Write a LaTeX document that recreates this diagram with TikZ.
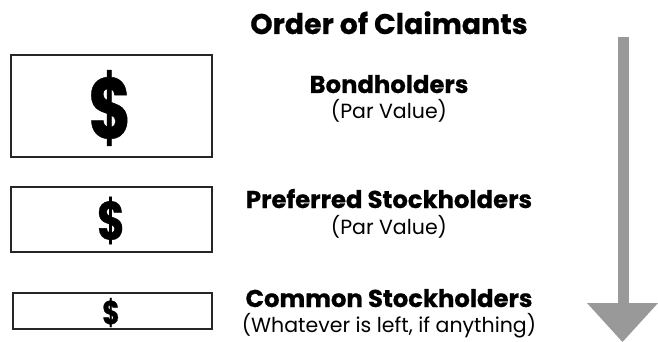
\documentclass[tikz,border=0pt]{standalone}
\usepackage{fontspec}
\setmainfont{Poppins}[BoldFeatures={FakeBold=0.6}]
\begin{document}
\begin{tikzpicture}[x=1pt,y=-1pt,
  bill/.style={draw=black!85,line width=1.4pt},
  dollar/.style={font=\bfseries\fontsize{#1}{#1}\selectfont,inner sep=0pt},
  head/.style={font=\bfseries\fontsize{24.3}{26}\selectfont,inner sep=0pt},
  sub/.style={font=\fontsize{20.5}{22}\selectfont,inner sep=0pt},
  flow/.style={fill=black!40,draw=none}]
\useasboundingbox (0,0) rectangle (658,342);
% title
\node[font=\bfseries\fontsize{28.4}{30}\selectfont,inner sep=0pt,anchor=base] (title) at (389,34) {Order of Claimants};
% money boxes with narrowed dollar signs
\draw[bill] (11,55) rectangle (212,157);
\node[dollar=86] (d1) at (110,108) {\scalebox{0.76}[1]{\$}};
\draw[bill] (11,187) rectangle (212,252);
\node[dollar=54] (d2) at (111,220.5) {\scalebox{0.78}[1]{\$}};
\draw[bill] (13,293) rectangle (212,329);
\node[dollar=33] (d3) at (111,312.5) {\scalebox{0.8}[1]{\$}};
% claimant labels
\node[head,anchor=base] (bond) at (389,93) {Bondholders};
\node[sub,anchor=base] (bondv) at (389,119) {(Par Value)};
\node[head,anchor=base] (pref) at (389,208) {Preferred Stockholders};
\node[sub,anchor=base] (prefv) at (389,234) {(Par Value)};
\node[head,anchor=base] (comm) at (389,307) {Common Stockholders};
\node[sub,anchor=base] (commv) at (389,332) {(Whatever is left, if anything)};
% priority arrow
\fill[flow] (618,37) rectangle (629,304);
\fill[flow] (587,303) -- (658,303) -- (622.5,342) -- cycle;
\end{tikzpicture}
\end{document}
